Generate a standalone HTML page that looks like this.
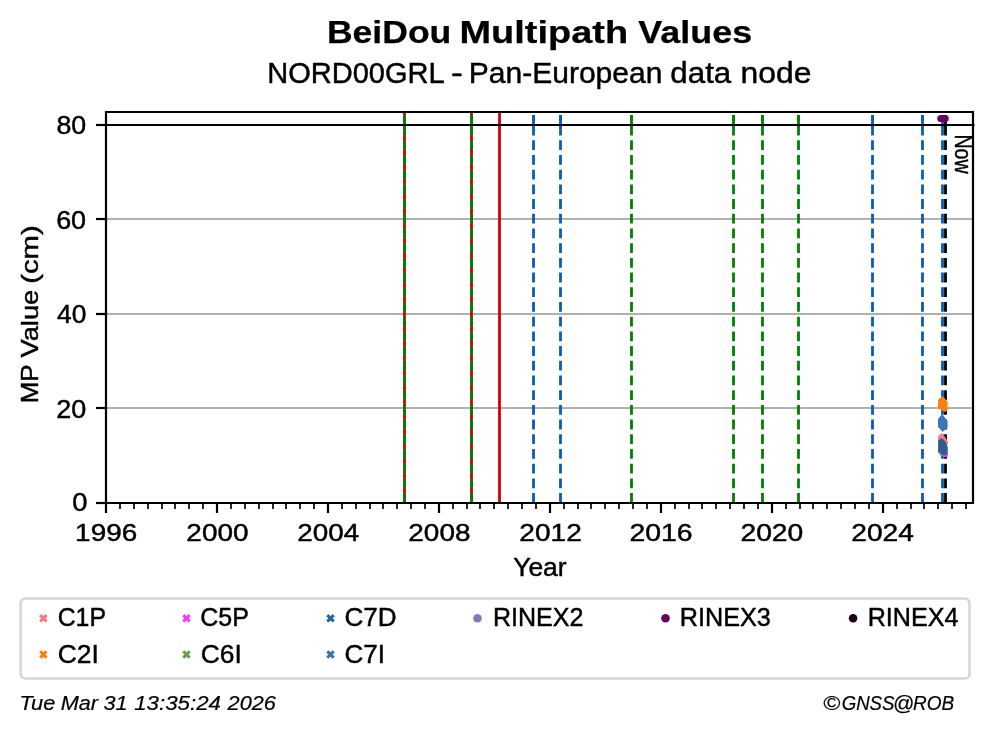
<!DOCTYPE html>
<html><head><meta charset="utf-8"><style>html,body{margin:0;padding:0;background:#fff;overflow:hidden}svg{display:block;will-change:transform} text{font-family:"Liberation Sans", sans-serif;stroke:#000;stroke-width:0.45px} text[font-style=italic]{stroke-width:0.2px} text[font-weight=bold]{stroke-width:0.25px}</style></head><body><svg width="993" height="734" viewBox="0 0 993 734">
<rect x="0" y="0" width="993" height="734" fill="#ffffff"/>
<line x1="106.0" y1="408.00" x2="973.0" y2="408.00" stroke="#b0b0b0" stroke-width="2.2"/>
<line x1="106.0" y1="314.00" x2="973.0" y2="314.00" stroke="#b0b0b0" stroke-width="2.2"/>
<line x1="106.0" y1="219.00" x2="973.0" y2="219.00" stroke="#b0b0b0" stroke-width="2.2"/>
<line x1="106.0" y1="125.00" x2="973.0" y2="125.00" stroke="#b0b0b0" stroke-width="2.2"/>
<line x1="404.5" y1="112.0" x2="404.5" y2="503.0" stroke="#d40000" stroke-width="2.8"/>
<line x1="471.5" y1="112.0" x2="471.5" y2="503.0" stroke="#d40000" stroke-width="2.8"/>
<line x1="499.5" y1="112.0" x2="499.5" y2="503.0" stroke="#d40000" stroke-width="2.8"/>
<path d="M404.5 502.9V115" stroke="#008000" stroke-width="2.8" stroke-dasharray="9.8 4.9" fill="none"/>
<line x1="404.5" y1="115" x2="404.5" y2="127" stroke="#008000" stroke-width="2.8"/>
<path d="M471.5 502.9V115" stroke="#008000" stroke-width="2.8" stroke-dasharray="9.8 4.9" fill="none"/>
<line x1="471.5" y1="115" x2="471.5" y2="127" stroke="#008000" stroke-width="2.8"/>
<path d="M631.5 502.9V115" stroke="#008000" stroke-width="2.8" stroke-dasharray="9.8 4.9" fill="none"/>
<line x1="631.5" y1="115" x2="631.5" y2="127" stroke="#008000" stroke-width="2.8"/>
<path d="M733.5 502.9V115" stroke="#008000" stroke-width="2.8" stroke-dasharray="9.8 4.9" fill="none"/>
<line x1="733.5" y1="115" x2="733.5" y2="127" stroke="#008000" stroke-width="2.8"/>
<path d="M762.5 502.9V115" stroke="#008000" stroke-width="2.8" stroke-dasharray="9.8 4.9" fill="none"/>
<line x1="762.5" y1="115" x2="762.5" y2="127" stroke="#008000" stroke-width="2.8"/>
<path d="M798.5 502.9V115" stroke="#008000" stroke-width="2.8" stroke-dasharray="9.8 4.9" fill="none"/>
<line x1="798.5" y1="115" x2="798.5" y2="127" stroke="#008000" stroke-width="2.8"/>
<path d="M533.5 502.9V115" stroke="#0a5cb8" stroke-width="2.8" stroke-dasharray="9.8 4.9" fill="none"/>
<line x1="533.5" y1="115" x2="533.5" y2="127" stroke="#0a5cb8" stroke-width="2.8"/>
<path d="M560.5 502.9V115" stroke="#0a5cb8" stroke-width="2.8" stroke-dasharray="9.8 4.9" fill="none"/>
<line x1="560.5" y1="115" x2="560.5" y2="127" stroke="#0a5cb8" stroke-width="2.8"/>
<path d="M872.5 502.9V115" stroke="#0a5cb8" stroke-width="2.8" stroke-dasharray="9.8 4.9" fill="none"/>
<line x1="872.5" y1="115" x2="872.5" y2="127" stroke="#0a5cb8" stroke-width="2.8"/>
<path d="M922.5 502.9V115" stroke="#0a5cb8" stroke-width="2.8" stroke-dasharray="9.8 4.9" fill="none"/>
<line x1="922.5" y1="115" x2="922.5" y2="127" stroke="#0a5cb8" stroke-width="2.8"/>
<path d="M942.5 502.9V115" stroke="#0a5cb8" stroke-width="2.8" stroke-dasharray="9.8 4.9" fill="none"/>
<line x1="942.5" y1="115" x2="942.5" y2="127" stroke="#0a5cb8" stroke-width="2.8"/>
<path d="M945.5 502.9V115" stroke="#000000" stroke-width="2.8" stroke-dasharray="9.8 4.9" fill="none"/>
<line x1="945.5" y1="115" x2="945.5" y2="127" stroke="#000000" stroke-width="2.8"/>
<line x1="106.0" y1="125.00" x2="974.5" y2="125.00" stroke="#000" stroke-width="2.1"/>
<polygon points="942.3,396.3 944.5,398 946.5,400.5 947.6,402 947.6,410 945.5,411.9 942,410.2 938,408.6 938,400 940,398" fill="#ff7f0e"/>
<polygon points="942.3,414.3 944.5,417 946.5,420 947.6,421.5 947.6,428 945,429.8 942.5,431.9 940,429 938,427 938,419 940,416.5" fill="#3a78b8"/>
<polygon points="941.5,433.1 945,437 948,441.4 948.1,444.4 945,444 938,442 938,436.3" fill="#ff7f7f"/>
<polygon points="938,450.5 941,453.5 943.5,455.6 941,456.2 938.3,452.8" fill="#6a9f4f"/>
<polygon points="943,455.3 946,454 948.1,453.3 947.6,456.6 945,457.2 943.3,457" fill="#ff33ff"/>
<polygon points="941.6,438 944,440 945.9,441.9 947.7,447 947.8,453.9 944.5,455.6 941,453.5 938,451.5 938.2,440.5" fill="#2b5f93"/>
<circle cx="940.8" cy="118.5" r="3.6" fill="#660066"/>
<circle cx="943.0" cy="118.5" r="3.6" fill="#660066"/>
<circle cx="945.2" cy="118.5" r="3.6" fill="#660066"/>
<path d="M106.0 503.0V112.0H973.0V503.0Z" fill="none" stroke="#000" stroke-width="2.2" stroke-linejoin="miter" stroke-linecap="square"/>
<line x1="96.05" y1="503.00" x2="106.0" y2="503.00" stroke="#000" stroke-width="2.2"/>
<line x1="96.05" y1="408.00" x2="106.0" y2="408.00" stroke="#000" stroke-width="2.2"/>
<line x1="96.05" y1="314.00" x2="106.0" y2="314.00" stroke="#000" stroke-width="2.2"/>
<line x1="96.05" y1="219.00" x2="106.0" y2="219.00" stroke="#000" stroke-width="2.2"/>
<line x1="96.05" y1="125.00" x2="106.0" y2="125.00" stroke="#000" stroke-width="2.2"/>
<line x1="106.00" y1="503.0" x2="106.00" y2="513.0" stroke="#000" stroke-width="2.2"/>
<line x1="120.00" y1="503.0" x2="120.00" y2="509.0" stroke="#000" stroke-width="1.7"/>
<line x1="134.00" y1="503.0" x2="134.00" y2="509.0" stroke="#000" stroke-width="1.7"/>
<line x1="148.00" y1="503.0" x2="148.00" y2="509.0" stroke="#000" stroke-width="1.7"/>
<line x1="162.00" y1="503.0" x2="162.00" y2="509.0" stroke="#000" stroke-width="1.7"/>
<line x1="175.00" y1="503.0" x2="175.00" y2="509.0" stroke="#000" stroke-width="1.7"/>
<line x1="189.00" y1="503.0" x2="189.00" y2="509.0" stroke="#000" stroke-width="1.7"/>
<line x1="203.00" y1="503.0" x2="203.00" y2="509.0" stroke="#000" stroke-width="1.7"/>
<line x1="217.00" y1="503.0" x2="217.00" y2="513.0" stroke="#000" stroke-width="2.2"/>
<line x1="231.00" y1="503.0" x2="231.00" y2="509.0" stroke="#000" stroke-width="1.7"/>
<line x1="245.00" y1="503.0" x2="245.00" y2="509.0" stroke="#000" stroke-width="1.7"/>
<line x1="259.00" y1="503.0" x2="259.00" y2="509.0" stroke="#000" stroke-width="1.7"/>
<line x1="273.00" y1="503.0" x2="273.00" y2="509.0" stroke="#000" stroke-width="1.7"/>
<line x1="286.00" y1="503.0" x2="286.00" y2="509.0" stroke="#000" stroke-width="1.7"/>
<line x1="300.00" y1="503.0" x2="300.00" y2="509.0" stroke="#000" stroke-width="1.7"/>
<line x1="314.00" y1="503.0" x2="314.00" y2="509.0" stroke="#000" stroke-width="1.7"/>
<line x1="328.00" y1="503.0" x2="328.00" y2="513.0" stroke="#000" stroke-width="2.2"/>
<line x1="342.00" y1="503.0" x2="342.00" y2="509.0" stroke="#000" stroke-width="1.7"/>
<line x1="356.00" y1="503.0" x2="356.00" y2="509.0" stroke="#000" stroke-width="1.7"/>
<line x1="370.00" y1="503.0" x2="370.00" y2="509.0" stroke="#000" stroke-width="1.7"/>
<line x1="383.00" y1="503.0" x2="383.00" y2="509.0" stroke="#000" stroke-width="1.7"/>
<line x1="397.00" y1="503.0" x2="397.00" y2="509.0" stroke="#000" stroke-width="1.7"/>
<line x1="411.00" y1="503.0" x2="411.00" y2="509.0" stroke="#000" stroke-width="1.7"/>
<line x1="425.00" y1="503.0" x2="425.00" y2="509.0" stroke="#000" stroke-width="1.7"/>
<line x1="439.00" y1="503.0" x2="439.00" y2="513.0" stroke="#000" stroke-width="2.2"/>
<line x1="453.00" y1="503.0" x2="453.00" y2="509.0" stroke="#000" stroke-width="1.7"/>
<line x1="467.00" y1="503.0" x2="467.00" y2="509.0" stroke="#000" stroke-width="1.7"/>
<line x1="480.00" y1="503.0" x2="480.00" y2="509.0" stroke="#000" stroke-width="1.7"/>
<line x1="494.00" y1="503.0" x2="494.00" y2="509.0" stroke="#000" stroke-width="1.7"/>
<line x1="508.00" y1="503.0" x2="508.00" y2="509.0" stroke="#000" stroke-width="1.7"/>
<line x1="522.00" y1="503.0" x2="522.00" y2="509.0" stroke="#000" stroke-width="1.7"/>
<line x1="536.00" y1="503.0" x2="536.00" y2="509.0" stroke="#000" stroke-width="1.7"/>
<line x1="550.00" y1="503.0" x2="550.00" y2="513.0" stroke="#000" stroke-width="2.2"/>
<line x1="564.00" y1="503.0" x2="564.00" y2="509.0" stroke="#000" stroke-width="1.7"/>
<line x1="578.00" y1="503.0" x2="578.00" y2="509.0" stroke="#000" stroke-width="1.7"/>
<line x1="591.00" y1="503.0" x2="591.00" y2="509.0" stroke="#000" stroke-width="1.7"/>
<line x1="605.00" y1="503.0" x2="605.00" y2="509.0" stroke="#000" stroke-width="1.7"/>
<line x1="619.00" y1="503.0" x2="619.00" y2="509.0" stroke="#000" stroke-width="1.7"/>
<line x1="633.00" y1="503.0" x2="633.00" y2="509.0" stroke="#000" stroke-width="1.7"/>
<line x1="647.00" y1="503.0" x2="647.00" y2="509.0" stroke="#000" stroke-width="1.7"/>
<line x1="661.00" y1="503.0" x2="661.00" y2="513.0" stroke="#000" stroke-width="2.2"/>
<line x1="675.00" y1="503.0" x2="675.00" y2="509.0" stroke="#000" stroke-width="1.7"/>
<line x1="689.00" y1="503.0" x2="689.00" y2="509.0" stroke="#000" stroke-width="1.7"/>
<line x1="702.00" y1="503.0" x2="702.00" y2="509.0" stroke="#000" stroke-width="1.7"/>
<line x1="716.00" y1="503.0" x2="716.00" y2="509.0" stroke="#000" stroke-width="1.7"/>
<line x1="730.00" y1="503.0" x2="730.00" y2="509.0" stroke="#000" stroke-width="1.7"/>
<line x1="744.00" y1="503.0" x2="744.00" y2="509.0" stroke="#000" stroke-width="1.7"/>
<line x1="758.00" y1="503.0" x2="758.00" y2="509.0" stroke="#000" stroke-width="1.7"/>
<line x1="772.00" y1="503.0" x2="772.00" y2="513.0" stroke="#000" stroke-width="2.2"/>
<line x1="786.00" y1="503.0" x2="786.00" y2="509.0" stroke="#000" stroke-width="1.7"/>
<line x1="800.00" y1="503.0" x2="800.00" y2="509.0" stroke="#000" stroke-width="1.7"/>
<line x1="813.00" y1="503.0" x2="813.00" y2="509.0" stroke="#000" stroke-width="1.7"/>
<line x1="827.00" y1="503.0" x2="827.00" y2="509.0" stroke="#000" stroke-width="1.7"/>
<line x1="841.00" y1="503.0" x2="841.00" y2="509.0" stroke="#000" stroke-width="1.7"/>
<line x1="855.00" y1="503.0" x2="855.00" y2="509.0" stroke="#000" stroke-width="1.7"/>
<line x1="869.00" y1="503.0" x2="869.00" y2="509.0" stroke="#000" stroke-width="1.7"/>
<line x1="883.00" y1="503.0" x2="883.00" y2="513.0" stroke="#000" stroke-width="2.2"/>
<line x1="897.00" y1="503.0" x2="897.00" y2="509.0" stroke="#000" stroke-width="1.7"/>
<line x1="911.00" y1="503.0" x2="911.00" y2="509.0" stroke="#000" stroke-width="1.7"/>
<line x1="924.00" y1="503.0" x2="924.00" y2="509.0" stroke="#000" stroke-width="1.7"/>
<line x1="938.00" y1="503.0" x2="938.00" y2="509.0" stroke="#000" stroke-width="1.7"/>
<line x1="952.00" y1="503.0" x2="952.00" y2="509.0" stroke="#000" stroke-width="1.7"/>
<line x1="966.00" y1="503.0" x2="966.00" y2="509.0" stroke="#000" stroke-width="1.7"/>
<text transform="translate(326.91,42.98)" font-size="30.93" font-weight="bold" font-style="normal" textLength="124.42" lengthAdjust="spacingAndGlyphs" fill="#000">BeiDou</text>
<text transform="translate(459.52,42.98)" font-size="30.93" font-weight="bold" font-style="normal" textLength="168.55" lengthAdjust="spacingAndGlyphs" fill="#000">Multipath</text>
<text transform="translate(638.37,42.98)" font-size="30.93" font-weight="bold" font-style="normal" textLength="113.79" lengthAdjust="spacingAndGlyphs" fill="#000">Values</text>
<text transform="translate(267.28,82.72)" font-size="29.47" font-weight="normal" font-style="normal" textLength="177.37" lengthAdjust="spacingAndGlyphs" fill="#000">NORD00GRL</text>
<text transform="translate(450.96,82.72)" font-size="29.47" font-weight="normal" font-style="normal" textLength="11.81" lengthAdjust="spacingAndGlyphs" fill="#000">-</text>
<text transform="translate(468.84,82.72)" font-size="29.47" font-weight="normal" font-style="normal" textLength="193.55" lengthAdjust="spacingAndGlyphs" fill="#000">Pan-European</text>
<text transform="translate(670.33,82.72)" font-size="29.47" font-weight="normal" font-style="normal" textLength="60.92" lengthAdjust="spacingAndGlyphs" fill="#000">data</text>
<text transform="translate(740.56,82.72)" font-size="29.47" font-weight="normal" font-style="normal" textLength="70.88" lengthAdjust="spacingAndGlyphs" fill="#000">node</text>
<text transform="translate(72.32,511.47)" font-size="25.29" font-weight="normal" font-style="normal" textLength="15.21" lengthAdjust="spacingAndGlyphs" fill="#000">0</text>
<text transform="translate(56.32,417.62)" font-size="25.50" font-weight="normal" font-style="normal" textLength="30.00" lengthAdjust="spacingAndGlyphs" fill="#000">20</text>
<text transform="translate(57.05,322.83)" font-size="25.29" font-weight="normal" font-style="normal" textLength="29.27" lengthAdjust="spacingAndGlyphs" fill="#000">40</text>
<text transform="translate(56.15,228.55)" font-size="25.08" font-weight="normal" font-style="normal" textLength="29.96" lengthAdjust="spacingAndGlyphs" fill="#000">60</text>
<text transform="translate(56.42,133.63)" font-size="25.29" font-weight="normal" font-style="normal" textLength="29.78" lengthAdjust="spacingAndGlyphs" fill="#000">80</text>
<text transform="translate(75.12,540.62)" font-size="24.45" font-weight="normal" font-style="normal" textLength="62.04" lengthAdjust="spacingAndGlyphs" fill="#000">1996</text>
<text transform="translate(186.35,540.62)" font-size="24.45" font-weight="normal" font-style="normal" textLength="62.15" lengthAdjust="spacingAndGlyphs" fill="#000">2000</text>
<text transform="translate(297.35,540.62)" font-size="24.45" font-weight="normal" font-style="normal" textLength="61.88" lengthAdjust="spacingAndGlyphs" fill="#000">2004</text>
<text transform="translate(408.32,540.62)" font-size="24.45" font-weight="normal" font-style="normal" textLength="62.15" lengthAdjust="spacingAndGlyphs" fill="#000">2008</text>
<text transform="translate(519.33,540.62)" font-size="24.45" font-weight="normal" font-style="normal" textLength="62.41" lengthAdjust="spacingAndGlyphs" fill="#000">2012</text>
<text transform="translate(629.45,540.62)" font-size="24.45" font-weight="normal" font-style="normal" textLength="63.12" lengthAdjust="spacingAndGlyphs" fill="#000">2016</text>
<text transform="translate(740.42,540.62)" font-size="24.45" font-weight="normal" font-style="normal" textLength="62.86" lengthAdjust="spacingAndGlyphs" fill="#000">2020</text>
<text transform="translate(851.25,540.62)" font-size="24.45" font-weight="normal" font-style="normal" textLength="62.59" lengthAdjust="spacingAndGlyphs" fill="#000">2024</text>
<text transform="translate(37.65,403.32) rotate(-90)" font-size="24.04" font-weight="normal" font-style="normal" textLength="38.91" lengthAdjust="spacingAndGlyphs" fill="#000">MP</text>
<text transform="translate(37.65,357.53) rotate(-90)" font-size="24.04" font-weight="normal" font-style="normal" textLength="67.85" lengthAdjust="spacingAndGlyphs" fill="#000">Value</text>
<text transform="translate(37.65,283.74) rotate(-90)" font-size="24.04" font-weight="normal" font-style="normal" textLength="58.39" lengthAdjust="spacingAndGlyphs" fill="#000">(cm)</text>
<text transform="translate(513.25,576.27)" font-size="25.87" font-weight="normal" font-style="normal" textLength="53.30" lengthAdjust="spacingAndGlyphs" fill="#000">Year</text>
<text transform="translate(955.35,134.40) rotate(90)" font-size="23.91" font-weight="normal" font-style="normal" textLength="39.29" lengthAdjust="spacingAndGlyphs" fill="#000">Now</text>
<text transform="translate(19.41,710.32)" font-size="20.01" font-weight="normal" font-style="italic" textLength="35.86" lengthAdjust="spacingAndGlyphs" fill="#000">Tue</text>
<text transform="translate(60.73,710.32)" font-size="20.01" font-weight="normal" font-style="italic" textLength="37.38" lengthAdjust="spacingAndGlyphs" fill="#000">Mar</text>
<text transform="translate(103.43,710.32)" font-size="20.01" font-weight="normal" font-style="italic" textLength="24.10" lengthAdjust="spacingAndGlyphs" fill="#000">31</text>
<text transform="translate(134.16,710.32)" font-size="20.01" font-weight="normal" font-style="italic" textLength="86.82" lengthAdjust="spacingAndGlyphs" fill="#000">13:35:24</text>
<text transform="translate(227.61,710.32)" font-size="20.01" font-weight="normal" font-style="italic" textLength="48.29" lengthAdjust="spacingAndGlyphs" fill="#000">2026</text>
<text transform="translate(822.89,709.62)" font-size="19.65" font-weight="normal" font-style="italic" textLength="17.07" lengthAdjust="spacingAndGlyphs" fill="#000">©</text>
<text transform="translate(841.66,709.62)" font-size="19.65" font-weight="normal" font-style="italic" textLength="52.80" lengthAdjust="spacingAndGlyphs" fill="#000">GNSS</text>
<text transform="translate(892.64,709.62)" font-size="19.65" font-weight="normal" font-style="italic" textLength="21.38" lengthAdjust="spacingAndGlyphs" fill="#000">@</text>
<text transform="translate(912.94,709.62)" font-size="19.65" font-weight="normal" font-style="italic" textLength="41.17" lengthAdjust="spacingAndGlyphs" fill="#000">ROB</text>
<rect x="20.6" y="598.5" width="948.9" height="80.0" rx="4.8" ry="4.8" fill="#fff" stroke="#d6d6d6" stroke-width="2.6"/>
<polygon points="45.55,614.00 47.70,616.15 45.55,618.30 47.70,620.45 45.55,622.60 43.40,620.45 41.25,622.60 39.10,620.45 41.25,618.30 39.10,616.15 41.25,614.00 43.40,616.15" fill="#ff7575"/>
<polygon points="188.65,614.00 190.80,616.15 188.65,618.30 190.80,620.45 188.65,622.60 186.50,620.45 184.35,622.60 182.20,620.45 184.35,618.30 182.20,616.15 184.35,614.00 186.50,616.15" fill="#ff33ff"/>
<polygon points="332.65,614.00 334.80,616.15 332.65,618.30 334.80,620.45 332.65,622.60 330.50,620.45 328.35,622.60 326.20,620.45 328.35,618.30 326.20,616.15 328.35,614.00 330.50,616.15" fill="#27639c"/>
<polygon points="45.55,650.20 47.70,652.35 45.55,654.50 47.70,656.65 45.55,658.80 43.40,656.65 41.25,658.80 39.10,656.65 41.25,654.50 39.10,652.35 41.25,650.20 43.40,652.35" fill="#ff7f0e"/>
<polygon points="188.65,650.20 190.80,652.35 188.65,654.50 190.80,656.65 188.65,658.80 186.50,656.65 184.35,658.80 182.20,656.65 184.35,654.50 182.20,652.35 184.35,650.20 186.50,652.35" fill="#6a9f4f"/>
<polygon points="332.65,650.20 334.80,652.35 332.65,654.50 334.80,656.65 332.65,658.80 330.50,656.65 328.35,658.80 326.20,656.65 328.35,654.50 326.20,652.35 328.35,650.20 330.50,652.35" fill="#3174b7"/>
<circle cx="477.5" cy="618.3" r="4.3" fill="#7b7bbd"/>
<circle cx="665.5" cy="618.3" r="4.3" fill="#660066"/>
<circle cx="853.1" cy="618.3" r="4.3" fill="#1a0019"/>
<text transform="translate(57.68,625.73)" font-size="24.87" font-weight="normal" font-style="normal" textLength="48.31" lengthAdjust="spacingAndGlyphs" fill="#000">C1P</text>
<text transform="translate(200.25,625.73)" font-size="24.87" font-weight="normal" font-style="normal" textLength="48.61" lengthAdjust="spacingAndGlyphs" fill="#000">C5P</text>
<text transform="translate(344.48,625.73)" font-size="24.87" font-weight="normal" font-style="normal" textLength="52.22" lengthAdjust="spacingAndGlyphs" fill="#000">C7D</text>
<text transform="translate(492.90,626.00)" font-size="25.71" font-weight="normal" font-style="normal" textLength="90.45" lengthAdjust="spacingAndGlyphs" fill="#000">RINEX2</text>
<text transform="translate(679.82,625.75)" font-size="25.35" font-weight="normal" font-style="normal" textLength="91.01" lengthAdjust="spacingAndGlyphs" fill="#000">RINEX3</text>
<text transform="translate(867.70,626.00)" font-size="26.09" font-weight="normal" font-style="normal" textLength="90.84" lengthAdjust="spacingAndGlyphs" fill="#000">RINEX4</text>
<text transform="translate(57.70,662.75)" font-size="25.35" font-weight="normal" font-style="normal" textLength="41.08" lengthAdjust="spacingAndGlyphs" fill="#000">C2I</text>
<text transform="translate(200.70,662.75)" font-size="25.35" font-weight="normal" font-style="normal" textLength="41.08" lengthAdjust="spacingAndGlyphs" fill="#000">C6I</text>
<text transform="translate(344.52,662.75)" font-size="25.35" font-weight="normal" font-style="normal" textLength="40.57" lengthAdjust="spacingAndGlyphs" fill="#000">C7I</text>
</svg></body></html>
